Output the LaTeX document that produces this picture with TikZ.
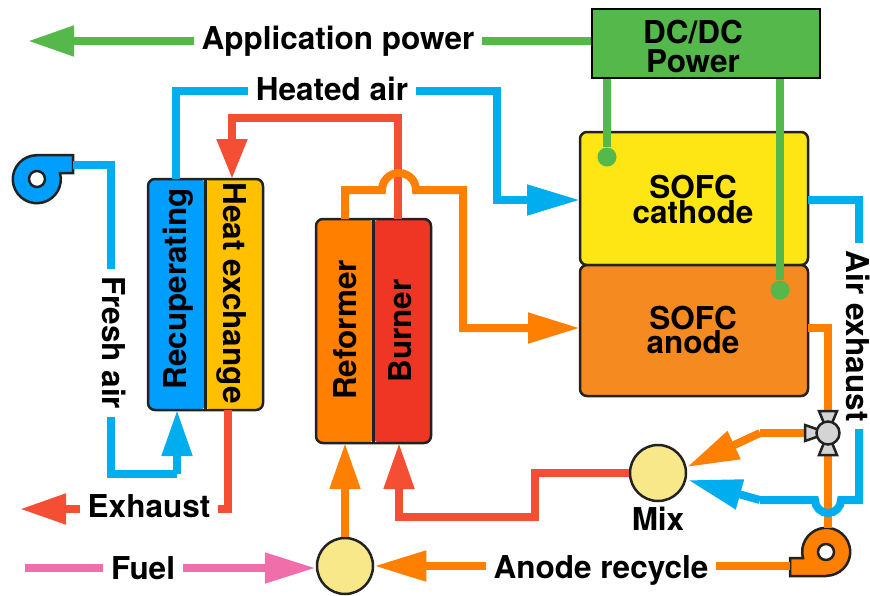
\documentclass[tikz,border=0pt]{standalone}
\usepackage{fontspec}
\setmainfont{TeX Gyre Heros}
\usetikzlibrary{arrows.meta,positioning,calc}
\definecolor{airblue}{RGB}{0,174,239}
\definecolor{recupblue}{RGB}{0,158,255}
\definecolor{heatgold}{RGB}{255,192,0}
\definecolor{hotred}{RGB}{244,78,53}
\definecolor{burnerred}{RGB}{239,53,36}
\definecolor{fuelorange}{RGB}{255,128,0}
\definecolor{anodeorange}{RGB}{245,138,32}
\definecolor{cathodeyellow}{RGB}{253,230,20}
\definecolor{powergreen}{RGB}{84,184,74}
\definecolor{fuelpink}{RGB}{240,110,169}
\definecolor{mixyellow}{RGB}{249,232,138}
\definecolor{valvegray}{RGB}{212,212,212}
\definecolor{edgeblack}{RGB}{34,34,34}
\tikzset{
    outline/.style={draw=edgeblack, line width=2.5pt},
    blower/.pic={
        \draw[outline, fill=#1] (0,-24) -- (36,-24) -- (36,-6) -- (23,-6)
            arc[start angle=15, end angle=-270, radius=24pt] -- cycle;
        \draw[outline, fill=white] (0,0) circle[radius=8pt];
        \coordinate (-out) at (36,-14);
        \coordinate (-top) at (-2,24);
    },
    flow/.style={line width=8pt, miter limit=10},
    flowtip/.style={-{Triangle[length=#1pt, width=29pt]}},
    flowtip/.default=46,
    stackbox/.style={outline, rounded corners=7pt, inner sep=0pt, outer sep=0pt},
    mixer/.style={circle, outline, fill=mixyellow, minimum size=56pt, inner sep=0pt},
    dot/.style={circle, fill=powergreen, minimum size=19pt, inner sep=0pt},
    lbl/.style={fill=white, inner xsep=8pt, inner ysep=1pt},
    tag/.style={inner sep=0pt, align=center},
}

\begin{document}
\begin{tikzpicture}[
    x=1pt, y=-1pt,
    every node/.style={font=\bfseries\fontsize{31.5}{31}\selectfont}
]
\useasboundingbox (0,0) rectangle (870,595);

% Stacks
\node[stackbox, fill=cathodeyellow, minimum width=228pt, minimum height=133pt] (cathode) at (694,198.5) {};
\node[stackbox, fill=anodeorange, minimum width=228pt, minimum height=131pt, below=0pt of cathode] (anode) {};
\node[tag] (cathodetag) at (693,199) {SOFC\\[-6pt]cathode};
\node[tag] (anodetag) at (693,330) {SOFC\\[-7pt]anode};

\node[stackbox, minimum width=115pt, minimum height=231pt, path picture={
    \fill[recupblue] (path picture bounding box.north west) rectangle (path picture bounding box.south);
    \fill[heatgold] (path picture bounding box.north) rectangle (path picture bounding box.south east);
}] (exchanger) at (205.5,294.5) {};
\draw[outline] (exchanger.north) -- (exchanger.south);
\node[tag, rotate=90] (recup) at (178,289) {Recuperating};
\node[tag, rotate=-90] (heat) at (232,293) {Heat exchange};

\node[stackbox, minimum width=115pt, minimum height=224pt, path picture={
    \fill[fuelorange] (path picture bounding box.north west) rectangle (path picture bounding box.south);
    \fill[burnerred] (path picture bounding box.north) rectangle (path picture bounding box.south east);
}] (reactor) at (373.5,331) {};
\draw[outline] (reactor.north) -- (reactor.south);
\node[tag, rotate=90] (reformer) at (345,330) {Reformer};
\node[tag, rotate=90] (burner) at (400,331) {Burner};

% DC/DC
\node[draw=black, line width=2.5pt, fill=powergreen, minimum width=228pt, minimum height=69pt] (dcdc) at (706,43.5) {};
\node[tag] (dctag) at (693,46) {DC/DC\\[-2pt]Power};

% Mixers and blowers
\node[mixer] (mix) at (658,473) {};
\node[tag, below=5pt of mix] (mixtag) {Mix};
\node[mixer] (fuelmix) at (345,566) {};
\pic (freshfan) at (37,179) {blower=recupblue};
\pic[rotate=180] (recyclefan) at (826,552) {blower=fuelorange};
\coordinate (valve) at (828,433);

% Power lines
\coordinate (appout) at (28,41);
\draw[flow, powergreen, flowtip] (dcdc.west |- appout) -- (appout);
\node[dot] (catdot) at (607,157) {};
\node[dot] (anodot) at (780,290) {};
\draw[flow, powergreen] (catdot |- dcdc.south) -- (catdot);
\draw[flow, powergreen] (anodot |- dcdc.south) -- (anodot);

% Hot gas path
\draw[flow, hotred, flowtip=40] (398,219) -- (398,118) -| (232,179);
\coordinate (exhaustout) at (20,509);
\draw[flow, hotred, flowtip] (228,410) -- (228,509) -- (exhaustout);
\draw[flow, hotred, flowtip] (mix.west) -| (535,517) -| (399,443);

% Fuel path
\coordinate (fuelin) at (25,568);
\draw[flow, fuelpink, flowtip=51] (fuelin) -- (fuelmix.west |- fuelin);
\draw[flow, fuelorange, flowtip] (fuelmix.north) -- (fuelmix.north |- reactor.south);
\draw[flow, fuelorange, flowtip=52] (recyclefan-out) -- (fuelmix.east |- recyclefan-out);
\draw[flow, fuelorange, flowtip=52] (reformer |- reactor.north) |- (382,190)
    arc[start angle=180, end angle=0, radius=17pt] -- (463,190) |- (anode.west |- 0,328);
\draw[flow, fuelorange] (anode.east |- 0,328) -| (valve);
\draw[flow, fuelorange] (valve) -- (recyclefan-top);
\draw[flow, fuelorange] (valve) -- (760,433);
\draw[flow, fuelorange, flowtip=52] (760,433) -- (687,467);

% Air path
\draw[flow, airblue] (freshfan-out) -| (111,474) -- (177,474);
\draw[flow, airblue, flowtip] (177,474) -- (177,410);
\draw[flow, airblue, flowtip=53] (176,179) |- (497,91) |- (cathode.west |- 0,200);
\draw[flow, airblue] (cathode.east |- 0,200) -| (859,500) -- (841,500)
    arc[start angle=0, end angle=-180, radius=13pt] -- (760,500);
\draw[flow, airblue, flowtip=54] (760,500) -- (688,480);

% Valve
\draw[outline, fill=valvegray] (valve) -- ++(-23,-8) -- ++(0,16) -- cycle;
\draw[outline, fill=valvegray] (valve) -- ++(-9,-22) -- ++(18,0) -- cycle;
\draw[outline, fill=valvegray] (valve) -- ++(-9,22) -- ++(18,0) -- cycle;
\node[circle, outline, fill=valvegray, minimum size=23pt, inner sep=0pt] (valvebody) at (valve) {};

% Labels
\node[lbl] (apptag) at (338,41) {Application power};
\node[lbl] (heatedtag) at (332,89) {Heated air};
\node[lbl, rotate=-90] (freshtag) at (114,343) {Fresh air};
\node[lbl, rotate=-90] (airtag) at (858,336) {Air exhaust};
\node[lbl] (exhausttag) at (149,506) {Exhaust};
\node[lbl] (fueltag) at (143,568) {Fuel};
\node[lbl] (recycletag) at (601,570) {Anode recycle};

\end{tikzpicture}
\end{document}
